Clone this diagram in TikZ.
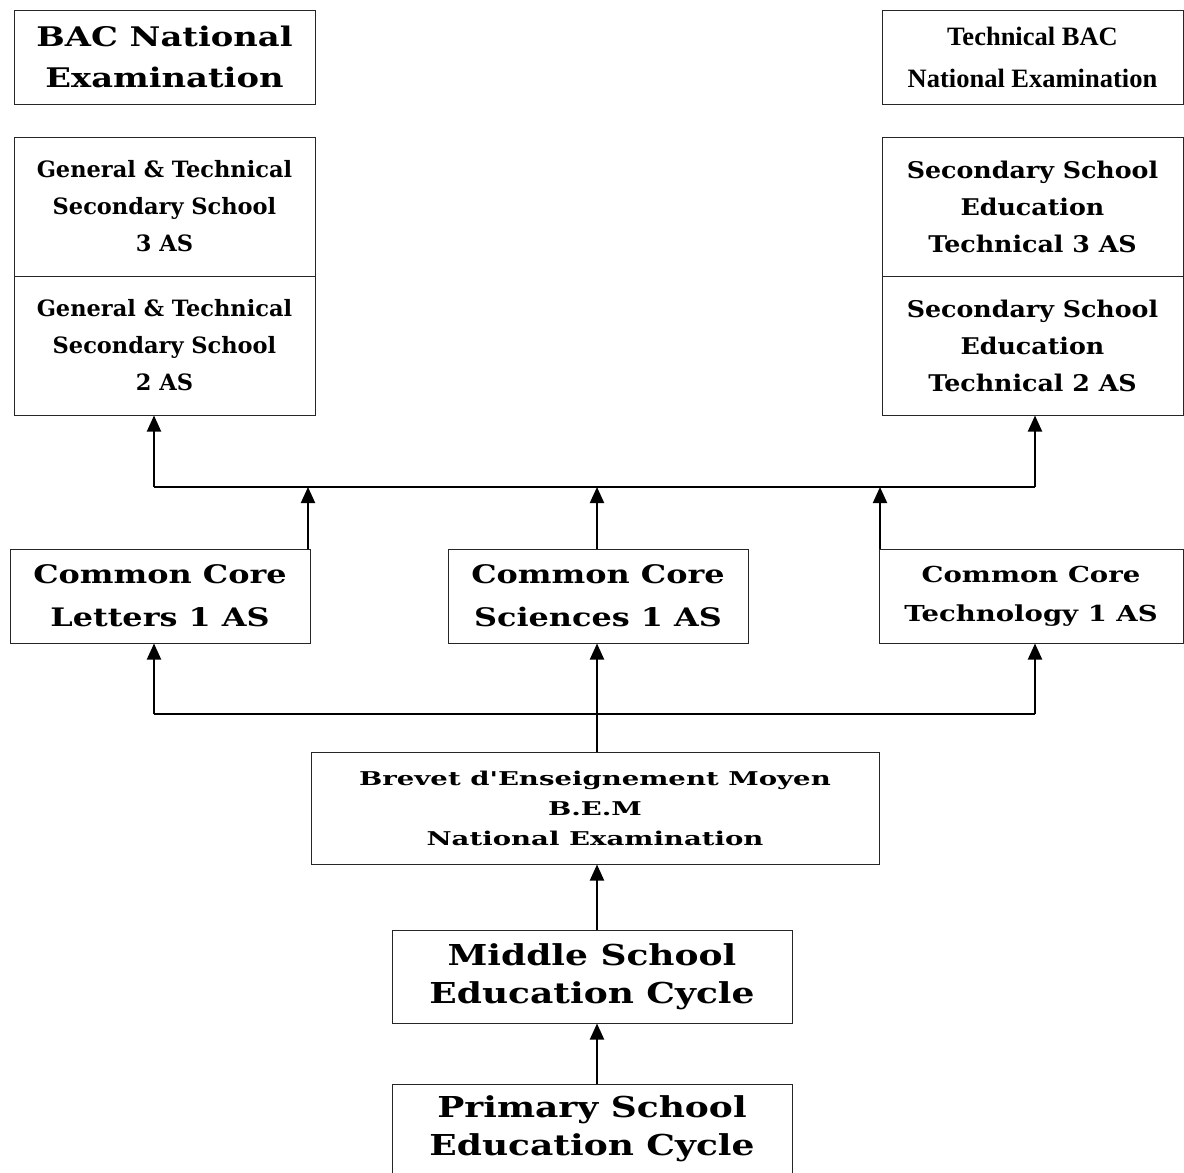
\documentclass[tikz,border=0pt]{standalone}
\usepackage{fontspec}
\usetikzlibrary{arrows.meta}
% serif faces at several widths
\newfontfamily\serifwide[FakeStretch=1.25]{DejaVu Serif}
\newfontfamily\serifmid[FakeStretch=1.1]{DejaVu Serif}
\newfontfamily\serifnorm{DejaVu Serif}
\newfontfamily\serifxwide[FakeStretch=1.45]{DejaVu Serif}
\newfontfamily\plainserif{Liberation Serif}
\newcommand\txtsize[2]{\fontsize{#1}{#2}\selectfont}

\tikzset{
  box/.style={draw=black!85, line width=1pt, inner sep=0pt, align=center},
  link/.style={line width=2pt},
  flow/.style={line width=2pt, -{Triangle[width=14pt,length=16pt]}},
}

\begin{document}
\begin{tikzpicture}[x=1pt,y=-1pt]
\useasboundingbox (0,0) rectangle (1184,1173);
\clip (0,0) rectangle (1184,1173);

% top: national examinations
\node[box, minimum width=301pt, minimum height=94pt, font=\serifwide\bfseries\txtsize{27}{41}]
  (bac) at (164.5,57) {BAC National\\Examination};
\node[box, minimum width=301pt, minimum height=94pt, font=\plainserif\bfseries\txtsize{26.5}{42}]
  (tbac) at (1032.5,57) {Technical BAC\\National Examination};

% secondary school years
\node[box, minimum width=301pt, minimum height=139pt, font=\serifnorm\bfseries\txtsize{22.5}{37}]
  (g3) at (164.5,206.5) {General \& Technical\\Secondary School\\3 AS};
\node[box, minimum width=301pt, minimum height=139pt, font=\serifnorm\bfseries\txtsize{22.5}{37}]
  (g2) at (164.5,345.5) {General \& Technical\\Secondary School\\2 AS};
\node[box, minimum width=301pt, minimum height=139pt, font=\serifmid\bfseries\txtsize{23}{37}]
  (s3) at (1032.5,206.5) {Secondary School\\Education\\Technical 3 AS};
\node[box, minimum width=301pt, minimum height=139pt, font=\serifmid\bfseries\txtsize{23}{37}]
  (s2) at (1032.5,345.5) {Secondary School\\Education\\Technical 2 AS};

% common core, first year
\node[box, minimum width=300pt, minimum height=94pt, font=\serifwide\bfseries\txtsize{25.5}{43}]
  (cl) at (160,596) {Common Core\\Letters 1 AS};
\node[box, minimum width=300pt, minimum height=94pt, font=\serifwide\bfseries\txtsize{25.5}{43}]
  (cs) at (598,596) {Common Core\\Sciences 1 AS};
\node[box, minimum width=304pt, minimum height=94pt, font=\serifwide\bfseries\txtsize{22}{39}]
  (ct) at (1031,596) {Common Core\\Technology 1 AS};

% middle and primary cycles
\node[box, minimum width=568pt, minimum height=112pt, font=\serifxwide\bfseries\txtsize{19}{30}]
  (bem) at (595,808) {Brevet d'Enseignement Moyen\\B.E.M\\National Examination};
\node[box, minimum width=400pt, minimum height=93pt, font=\serifwide\bfseries\txtsize{28.8}{38}]
  (ms) at (592,976.5) {Middle School\\Education Cycle};
\node[box, minimum width=400pt, minimum height=90pt, font=\serifwide\bfseries\txtsize{28.8}{38}]
  (ps) at (592,1129) {Primary School\\Education Cycle};

% upper distribution line
\coordinate (upL) at (154,487);
\coordinate (upR) at (1035,487);
\coordinate (j1) at (308,487);
\coordinate (j2) at (597,487);
\coordinate (j3) at (880,487);
\draw[link] (upL) -- (upR);
\draw[flow] (upL) -- (g2.south -| upL);
\draw[flow] (upR) -- (s2.south -| upR);
\draw[flow] (cl.north -| j1) -- (j1);
\draw[flow] (cs.north -| j2) -- (j2);
\draw[flow] (ct.north -| j3) -- (j3);

% lower distribution line
\coordinate (lowL) at (154,714);
\coordinate (lowM) at (597,714);
\coordinate (lowR) at (1035,714);
\draw[link] (lowL) -- (lowR);
\draw[link] (bem.north -| lowM) -- (lowM);
\draw[flow] (lowL) -- (cl.south -| lowL);
\draw[flow] (lowM) -- (cs.south -| lowM);
\draw[flow] (lowR) -- (ct.south -| lowR);

% progression through the cycles
\draw[flow] (ms.north -| lowM) -- (bem.south -| lowM);
\draw[flow] (ps.north -| lowM) -- (ms.south -| lowM);
\end{tikzpicture}
\end{document}
